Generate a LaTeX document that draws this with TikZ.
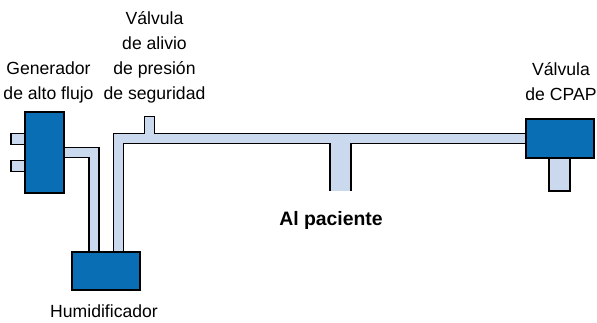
\documentclass[tikz,border=0pt]{standalone}
\usepackage{fontspec}
\setmainfont{Liberation Sans}
\usepackage{xcolor}
\usepackage{tikz}
\usetikzlibrary{positioning, backgrounds}

\definecolor{boxblue}{HTML}{0A6EB4}
\definecolor{tubelight}{HTML}{CBD9EE}

\tikzset{
    unitbox/.style = {draw = black, line width = 1.4pt, fill = boxblue, inner sep = 0pt},
    stubbox/.style = {draw = black, line width = 1.4pt, fill = tubelight, inner sep = 0pt},
    tubeblack/.style = {draw = black, line width = 11.4pt, line join = miter},
    tubefill/.style = {draw = tubelight, line width = 8.6pt, line join = miter},
    caption/.style = {align = center, font = \fontsize{17.6}{25}\selectfont, inner sep = 0pt}
}

\begin{document}
\begin{tikzpicture} [x = 1pt, y = -1pt]

        \useasboundingbox (0, 0) rectangle (597, 322);

        \node (gen) [unitbox, minimum width = 39pt, minimum height = 81pt] at (44.5, 152.5) {};
        \node (hum) [unitbox, minimum width = 68pt, minimum height = 38pt] at (106, 271) {};
        \node (cpap) [unitbox, minimum width = 68pt, minimum height = 39pt] at (560, 138.5) {};

        \coordinate (tee) at (340.5, 138.7); \coordinate (patient) at (340.5, 191);
        \coordinate (valve) at (149.5, 138.7); \coordinate (valvetop) at (149.5, 115.5);
        \coordinate (genout) at (gen.east |- 0, 152.5);
        \coordinate (genbend) at (94, 152.5);
        \coordinate (humin) at (94, 0 |- hum.north);
        \coordinate (humout) at (118.5, 0 |- hum.north);
        \coordinate (bend) at (118.5, 138.7);

        % everything below goes under the boxes
        \begin{scope}[on background layer]
            \draw [tubeblack] (genout) -- (genbend) -- (humin);
            \draw [tubeblack] (humout) -- (bend) -- (cpap.west |- bend);
            \draw [tubeblack] (valve) -- (valvetop);
            \draw [tubeblack, line width = 22.4pt] (tee) -- (patient);

            \draw [tubefill] (genout) -- (genbend) -- (humin);
            \draw [tubefill] (humout) -- (bend) -- (cpap.west |- bend);
            \draw [tubefill] (valve) -- (149.5, 117);
            \draw [tubefill, line width = 19.6pt] (tee) -- (patient);

            \node (stuba) [stubbox, minimum width = 14pt, minimum height = 10.5pt] at (18, 139) {};
            \node (stubb) [stubbox, minimum width = 14pt, minimum height = 10.5pt] at (18, 166) {};
            \node (stubc) [stubbox, minimum width = 21pt, minimum height = 33pt] at (559.5, 174.5) {};
        \end{scope}

        \node (genlabel) [caption] at (48.5, 82) {Generador\\de alto flujo};
        \node (valvelabel) [caption] at (154.5, 57) {Válvula\\de alivio\\de presión\\de seguridad};
        \node (cpaplabel) [caption] at (561, 81.5) {Válvula\\de CPAP};
        \node (humlabel) [caption] at (104, 311) {Humidificador};
        \node (patientlabel) [caption, font = \fontsize{19.4}{25}\selectfont\bfseries] at (331, 220) {Al paciente};

    \end{tikzpicture}
\end{document}
